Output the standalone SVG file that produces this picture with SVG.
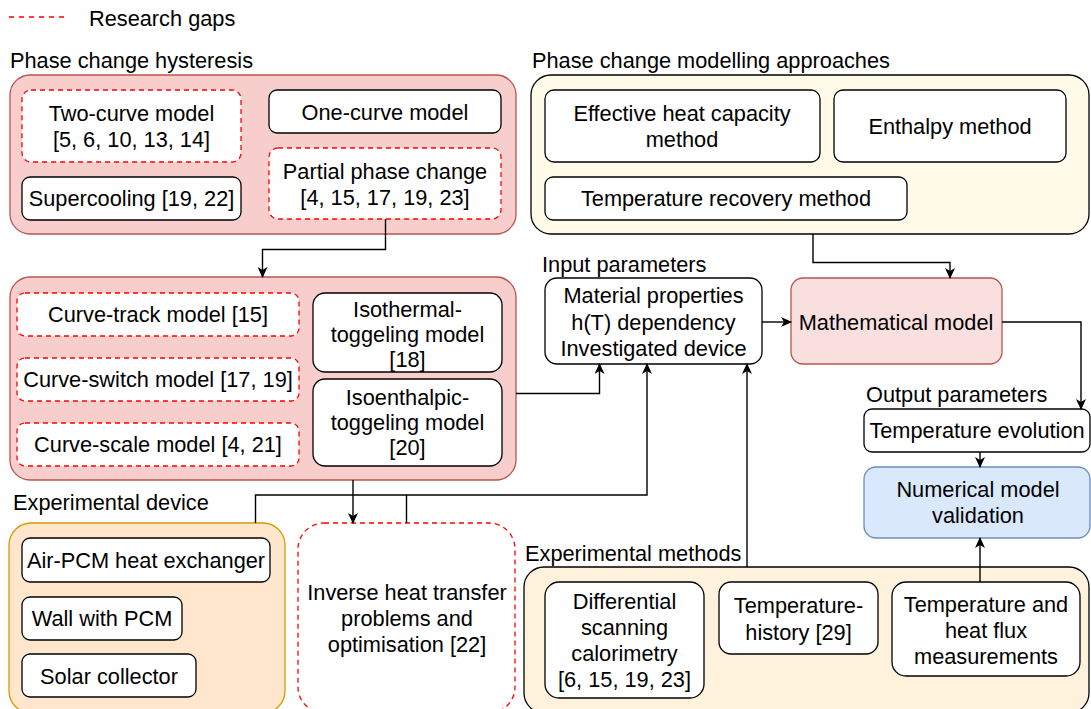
<svg xmlns="http://www.w3.org/2000/svg" width="1091" height="709" viewBox="0 0 1091 709">
  <style>
    text { font-family: "Liberation Sans", Arial, sans-serif; font-size: 21.75px; fill: #000; }
    .c { text-anchor: middle; }
    .box { fill: #fff; stroke: #000; stroke-width: 1.3; }
    .gap { fill: #fff; stroke: #ff0000; stroke-width: 1.3; stroke-dasharray: 5 4; }
    .grp-red { fill: #f8cecc; stroke: #b85450; stroke-width: 1.3; }
    .grp-cream { fill: #fffbe8; stroke: #000; stroke-width: 1.3; }
    .grp-orange { fill: #ffe6cc; stroke: #d79b00; stroke-width: 1.3; }
    .grp-sand { fill: #fff2dc; stroke: #000; stroke-width: 1.3; }
    .link { fill: none; stroke: #000; stroke-width: 1.4; }
  </style>
  <defs>
    <marker id="arrow" markerWidth="12" markerHeight="10" refX="10" refY="5" orient="auto" markerUnits="userSpaceOnUse">
      <path d="M0,0 L11,5 L0,10 L3,5 Z" fill="#000"/>
    </marker>
  </defs>

  <rect width="1091" height="709" fill="#fff"/>

  <!-- legend -->
  <g id="legend">
    <line x1="9" y1="17" x2="66" y2="17" stroke="#ff0000" stroke-width="1.3" stroke-dasharray="5 5"/>
    <text x="89" y="26">Research gaps</text>
  </g>

  <!-- phase change hysteresis: basic models -->
  <g id="hysteresis">
    <text x="10" y="68">Phase change hysteresis</text>
    <rect class="grp-red" x="10" y="75" width="506" height="159" rx="20"/>
  </g>
  <g id="two-curve">
    <rect class="gap" x="22" y="90" width="219" height="72" rx="9"/>
    <text class="c" x="131.5" y="121">Two-curve model</text>
    <text class="c" x="131.5" y="147">[5, 6, 10, 13, 14]</text>
  </g>
  <g id="one-curve">
    <rect class="box" x="269" y="90" width="232" height="43" rx="8"/>
    <text class="c" x="385" y="119.5">One-curve model</text>
  </g>
  <g id="supercooling">
    <rect class="box" x="22" y="177" width="219" height="43" rx="8"/>
    <text class="c" x="131.5" y="206">Supercooling [19, 22]</text>
  </g>
  <g id="partial">
    <rect class="gap" x="269" y="148" width="232" height="71" rx="9"/>
    <text class="c" x="385" y="179">Partial phase change</text>
    <text class="c" x="385" y="205">[4, 15, 17, 19, 23]</text>
  </g>

  <!-- phase change hysteresis: partial models -->
  <g id="partial-models">
    <rect class="grp-red" x="10" y="277" width="506" height="203" rx="20"/>
  </g>
  <g id="curve-track">
    <rect class="gap" x="17" y="293" width="282" height="43" rx="8"/>
    <text class="c" x="158" y="322">Curve-track model [15]</text>
  </g>
  <g id="curve-switch">
    <rect class="gap" x="17" y="358" width="282" height="43" rx="8"/>
    <text class="c" x="158" y="387">Curve-switch model [17, 19]</text>
  </g>
  <g id="curve-scale">
    <rect class="gap" x="17" y="423" width="282" height="43" rx="8"/>
    <text class="c" x="158" y="452">Curve-scale model [4, 21]</text>
  </g>
  <g id="isothermal">
    <rect class="box" x="313" y="293" width="189" height="79" rx="12"/>
    <text class="c" x="407.5" y="317">Isothermal-</text>
    <text class="c" x="407.5" y="342">toggeling model</text>
    <text class="c" x="407.5" y="367">[18]</text>
  </g>
  <g id="isoenthalpic">
    <rect class="box" x="313" y="379" width="189" height="87" rx="12"/>
    <text class="c" x="407.5" y="405">Isoenthalpic-</text>
    <text class="c" x="407.5" y="430">toggeling model</text>
    <text class="c" x="407.5" y="455">[20]</text>
  </g>

  <!-- modelling approaches -->
  <g id="approaches">
    <text x="532" y="68">Phase change modelling approaches</text>
    <rect class="grp-cream" x="531" y="75" width="558" height="159" rx="20"/>
  </g>
  <g id="effective-heat">
    <rect class="box" x="545" y="90" width="275" height="72" rx="9"/>
    <text class="c" x="682" y="121">Effective heat capacity</text>
    <text class="c" x="682" y="147">method</text>
  </g>
  <g id="enthalpy">
    <rect class="box" x="834" y="90" width="232" height="72" rx="9"/>
    <text class="c" x="950" y="134">Enthalpy method</text>
  </g>
  <g id="temperature-recovery">
    <rect class="box" x="545" y="177" width="362" height="43" rx="8"/>
    <text class="c" x="726" y="206">Temperature recovery method</text>
  </g>

  <!-- model core -->
  <g id="input">
    <text x="542" y="272">Input parameters</text>
    <rect class="box" x="545" y="278" width="217" height="86" rx="12"/>
    <text class="c" x="653.5" y="303">Material properties</text>
    <text class="c" x="653.5" y="330">h(T) dependency</text>
    <text class="c" x="653.5" y="356">Investigated device</text>
  </g>
  <g id="mathematical-model">
    <rect x="791" y="278" width="211" height="86" rx="12" fill="#f9e0df" stroke="#b85450" stroke-width="1.3"/>
    <text class="c" x="896" y="330">Mathematical model</text>
  </g>
  <g id="output">
    <text x="866" y="402">Output parameters</text>
    <rect class="box" x="864" y="409" width="226" height="43" rx="8"/>
    <text class="c" x="977" y="438">Temperature evolution</text>
  </g>
  <g id="validation">
    <rect x="864" y="467" width="226" height="71" rx="12" fill="#dae8fc" stroke="#6c8ebf" stroke-width="1.3"/>
    <text class="c" x="978" y="497">Numerical model</text>
    <text class="c" x="978" y="523">validation</text>
  </g>

  <!-- experimental device -->
  <g id="device">
    <text x="13" y="510">Experimental device</text>
    <rect class="grp-orange" x="9" y="523" width="276" height="190" rx="22"/>
  </g>
  <g id="air-pcm">
    <rect class="box" x="22" y="538" width="248" height="44" rx="8"/>
    <text class="c" x="146" y="568">Air-PCM heat exchanger</text>
  </g>
  <g id="wall-pcm">
    <rect class="box" x="22" y="597" width="160" height="43" rx="8"/>
    <text class="c" x="102" y="626">Wall with PCM</text>
  </g>
  <g id="solar">
    <rect class="box" x="22" y="654" width="174" height="43" rx="8"/>
    <text class="c" x="109" y="684">Solar collector</text>
  </g>

  <!-- inverse problems -->
  <g id="inverse">
    <rect class="gap" x="298" y="523" width="217" height="190" rx="26"/>
    <text class="c" x="407" y="600">Inverse heat transfer</text>
    <text class="c" x="407" y="626">problems and</text>
    <text class="c" x="407" y="652">optimisation [22]</text>
  </g>

  <!-- experimental methods -->
  <g id="methods">
    <text x="525" y="561">Experimental methods</text>
    <rect class="grp-sand" x="524" y="567" width="565" height="146" rx="20"/>
  </g>
  <g id="dsc">
    <rect class="box" x="545" y="582" width="159" height="116" rx="14"/>
    <text class="c" x="624.5" y="609">Differential</text>
    <text class="c" x="624.5" y="635">scanning</text>
    <text class="c" x="624.5" y="661">calorimetry</text>
    <text class="c" x="624.5" y="687">[6, 15, 19, 23]</text>
  </g>
  <g id="temperature-history">
    <rect class="box" x="719" y="582" width="159" height="72" rx="12"/>
    <text class="c" x="798.5" y="613">Temperature-</text>
    <text class="c" x="798.5" y="640">history [29]</text>
  </g>
  <g id="heat-flux">
    <rect class="box" x="892" y="582" width="188" height="94" rx="14"/>
    <text class="c" x="986" y="612">Temperature and</text>
    <text class="c" x="986" y="638">heat flux</text>
    <text class="c" x="986" y="664">measurements</text>
  </g>

  <!-- connectors -->
  <g id="connectors">
    <polyline class="link" points="385.5,219 385.5,249.5 262.5,249.5 262.5,277" marker-end="url(#arrow)"/>
    <polyline class="link" points="813,234 813,262.5 950,262.5 950,278" marker-end="url(#arrow)"/>
    <line class="link" x1="762" y1="322" x2="791" y2="322" stroke-width="2" marker-end="url(#arrow)"/>
    <polyline class="link" points="1002,322 1081,322 1081,409" marker-end="url(#arrow)"/>
    <line class="link" x1="980" y1="452" x2="980" y2="467" marker-end="url(#arrow)"/>
    <polyline class="link" points="516,393.5 599.5,393.5 599.5,364" marker-end="url(#arrow)"/>
    <polyline class="link" points="255.5,523 255.5,495 647,495 647,364" marker-end="url(#arrow)"/>
    <line class="link" x1="406.5" y1="523" x2="406.5" y2="495"/>
    <line class="link" x1="353" y1="480" x2="353" y2="523" marker-end="url(#arrow)"/>
    <line class="link" x1="747" y1="567" x2="747" y2="364" marker-end="url(#arrow)"/>
    <line class="link" x1="980" y1="582" x2="980" y2="538" marker-end="url(#arrow)"/>
  </g>
</svg>
